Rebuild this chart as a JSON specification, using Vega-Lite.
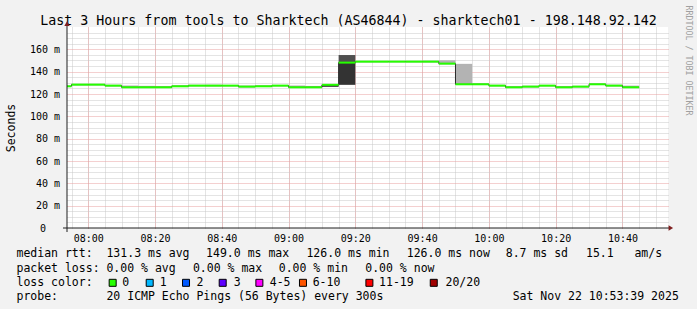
{
  "$schema": "https://vega.github.io/schema/vega-lite/v6.json",
  "background": "#f2f2f2",
  "padding": {"left": 5, "top": 5, "right": 5, "bottom": 4},
  "config": {"font": "DejaVu Sans Mono", "view": {"stroke": null}},
  "spacing": 4.2,
  "datasets": {
    "pings": [
      {"t0": "2025-11-22T07:50:00", "t1": "2025-11-22T07:55:00", "med": 126.9},
      {"t0": "2025-11-22T07:55:00", "t1": "2025-11-22T08:00:00", "med": 128.4},
      {"t0": "2025-11-22T08:00:00", "t1": "2025-11-22T08:05:00", "med": 128.4},
      {"t0": "2025-11-22T08:05:00", "t1": "2025-11-22T08:10:00", "med": 127.5},
      {"t0": "2025-11-22T08:10:00", "t1": "2025-11-22T08:15:00", "med": 126.0},
      {"t0": "2025-11-22T08:15:00", "t1": "2025-11-22T08:20:00", "med": 126.0},
      {"t0": "2025-11-22T08:20:00", "t1": "2025-11-22T08:25:00", "med": 126.0},
      {"t0": "2025-11-22T08:25:00", "t1": "2025-11-22T08:30:00", "med": 126.9},
      {"t0": "2025-11-22T08:30:00", "t1": "2025-11-22T08:35:00", "med": 127.5},
      {"t0": "2025-11-22T08:35:00", "t1": "2025-11-22T08:40:00", "med": 127.5},
      {"t0": "2025-11-22T08:40:00", "t1": "2025-11-22T08:45:00", "med": 127.5},
      {"t0": "2025-11-22T08:45:00", "t1": "2025-11-22T08:50:00", "med": 126.6},
      {"t0": "2025-11-22T08:50:00", "t1": "2025-11-22T08:55:00", "med": 126.9},
      {"t0": "2025-11-22T08:55:00", "t1": "2025-11-22T09:00:00", "med": 127.5},
      {"t0": "2025-11-22T09:00:00", "t1": "2025-11-22T09:05:00", "med": 126.0},
      {"t0": "2025-11-22T09:05:00", "t1": "2025-11-22T09:10:00", "med": 126.0},
      {"t0": "2025-11-22T09:10:00", "t1": "2025-11-22T09:15:00", "med": 128.2},
      {"t0": "2025-11-22T09:15:00", "t1": "2025-11-22T09:20:00", "med": 148.1},
      {"t0": "2025-11-22T09:20:00", "t1": "2025-11-22T09:25:00", "med": 149.0},
      {"t0": "2025-11-22T09:25:00", "t1": "2025-11-22T09:30:00", "med": 149.0},
      {"t0": "2025-11-22T09:30:00", "t1": "2025-11-22T09:35:00", "med": 149.0},
      {"t0": "2025-11-22T09:35:00", "t1": "2025-11-22T09:40:00", "med": 149.0},
      {"t0": "2025-11-22T09:40:00", "t1": "2025-11-22T09:45:00", "med": 149.0},
      {"t0": "2025-11-22T09:45:00", "t1": "2025-11-22T09:50:00", "med": 147.2},
      {"t0": "2025-11-22T09:50:00", "t1": "2025-11-22T09:55:00", "med": 128.7},
      {"t0": "2025-11-22T09:55:00", "t1": "2025-11-22T10:00:00", "med": 128.7},
      {"t0": "2025-11-22T10:00:00", "t1": "2025-11-22T10:05:00", "med": 127.5},
      {"t0": "2025-11-22T10:05:00", "t1": "2025-11-22T10:10:00", "med": 126.0},
      {"t0": "2025-11-22T10:10:00", "t1": "2025-11-22T10:15:00", "med": 126.6},
      {"t0": "2025-11-22T10:15:00", "t1": "2025-11-22T10:20:00", "med": 127.5},
      {"t0": "2025-11-22T10:20:00", "t1": "2025-11-22T10:25:00", "med": 126.0},
      {"t0": "2025-11-22T10:25:00", "t1": "2025-11-22T10:30:00", "med": 126.6},
      {"t0": "2025-11-22T10:30:00", "t1": "2025-11-22T10:35:00", "med": 128.7},
      {"t0": "2025-11-22T10:35:00", "t1": "2025-11-22T10:40:00", "med": 127.5},
      {"t0": "2025-11-22T10:40:00", "t1": "2025-11-22T10:45:00", "med": 126.0}
    ],
    "smoke": [
      {"t0": "2025-11-22T07:50:00", "t1": "2025-11-22T07:55:00", "lo": 126.4, "hi": 127.6, "shade": "light"},
      {"t0": "2025-11-22T07:55:00", "t1": "2025-11-22T08:00:00", "lo": 127.8, "hi": 129.0, "shade": "light"},
      {"t0": "2025-11-22T08:00:00", "t1": "2025-11-22T08:05:00", "lo": 127.9, "hi": 129.0, "shade": "light"},
      {"t0": "2025-11-22T08:05:00", "t1": "2025-11-22T08:10:00", "lo": 126.9, "hi": 128.2, "shade": "light"},
      {"t0": "2025-11-22T08:10:00", "t1": "2025-11-22T08:15:00", "lo": 125.6, "hi": 127.6, "shade": "light"},
      {"t0": "2025-11-22T08:15:00", "t1": "2025-11-22T08:20:00", "lo": 125.6, "hi": 127.3, "shade": "light"},
      {"t0": "2025-11-22T08:20:00", "t1": "2025-11-22T08:25:00", "lo": 125.6, "hi": 127.0, "shade": "light"},
      {"t0": "2025-11-22T08:25:00", "t1": "2025-11-22T08:30:00", "lo": 126.3, "hi": 127.6, "shade": "light"},
      {"t0": "2025-11-22T08:30:00", "t1": "2025-11-22T08:35:00", "lo": 127.0, "hi": 128.2, "shade": "light"},
      {"t0": "2025-11-22T08:35:00", "t1": "2025-11-22T08:40:00", "lo": 126.9, "hi": 128.3, "shade": "light"},
      {"t0": "2025-11-22T08:40:00", "t1": "2025-11-22T08:45:00", "lo": 127.0, "hi": 128.0, "shade": "light"},
      {"t0": "2025-11-22T08:45:00", "t1": "2025-11-22T08:50:00", "lo": 126.1, "hi": 127.6, "shade": "light"},
      {"t0": "2025-11-22T08:50:00", "t1": "2025-11-22T08:55:00", "lo": 126.3, "hi": 127.5, "shade": "light"},
      {"t0": "2025-11-22T08:55:00", "t1": "2025-11-22T09:00:00", "lo": 127.0, "hi": 128.1, "shade": "light"},
      {"t0": "2025-11-22T09:00:00", "t1": "2025-11-22T09:05:00", "lo": 125.6, "hi": 127.6, "shade": "light"},
      {"t0": "2025-11-22T09:05:00", "t1": "2025-11-22T09:10:00", "lo": 125.6, "hi": 127.2, "shade": "light"},
      {"t0": "2025-11-22T09:10:00", "t1": "2025-11-22T09:15:00", "lo": 126.4, "hi": 128.2, "shade": "black"},
      {"t0": "2025-11-22T09:15:00", "t1": "2025-11-22T09:20:00", "lo": 128.2, "hi": 148.1, "shade": "dark"},
      {"t0": "2025-11-22T09:15:00", "t1": "2025-11-22T09:20:00", "lo": 148.1, "hi": 154.9, "shade": "mid"},
      {"t0": "2025-11-22T09:20:00", "t1": "2025-11-22T09:25:00", "lo": 148.5, "hi": 149.6, "shade": "light"},
      {"t0": "2025-11-22T09:25:00", "t1": "2025-11-22T09:30:00", "lo": 148.5, "hi": 149.5, "shade": "light"},
      {"t0": "2025-11-22T09:30:00", "t1": "2025-11-22T09:35:00", "lo": 148.6, "hi": 149.5, "shade": "light"},
      {"t0": "2025-11-22T09:35:00", "t1": "2025-11-22T09:40:00", "lo": 148.5, "hi": 149.6, "shade": "light"},
      {"t0": "2025-11-22T09:40:00", "t1": "2025-11-22T09:45:00", "lo": 148.4, "hi": 149.8, "shade": "light"},
      {"t0": "2025-11-22T09:45:00", "t1": "2025-11-22T09:50:00", "lo": 146.8, "hi": 150.2, "shade": "light"},
      {"t0": "2025-11-22T09:50:00", "t1": "2025-11-22T09:55:00", "lo": 128.3, "hi": 147.0, "shade": "light"},
      {"t0": "2025-11-22T09:55:00", "t1": "2025-11-22T10:00:00", "lo": 128.2, "hi": 129.4, "shade": "light"},
      {"t0": "2025-11-22T10:00:00", "t1": "2025-11-22T10:05:00", "lo": 127.0, "hi": 128.2, "shade": "light"},
      {"t0": "2025-11-22T10:05:00", "t1": "2025-11-22T10:10:00", "lo": 125.6, "hi": 126.9, "shade": "light"},
      {"t0": "2025-11-22T10:10:00", "t1": "2025-11-22T10:15:00", "lo": 126.1, "hi": 127.4, "shade": "light"},
      {"t0": "2025-11-22T10:15:00", "t1": "2025-11-22T10:20:00", "lo": 127.0, "hi": 128.1, "shade": "light"},
      {"t0": "2025-11-22T10:20:00", "t1": "2025-11-22T10:25:00", "lo": 125.6, "hi": 127.0, "shade": "light"},
      {"t0": "2025-11-22T10:25:00", "t1": "2025-11-22T10:30:00", "lo": 126.1, "hi": 127.3, "shade": "light"},
      {"t0": "2025-11-22T10:30:00", "t1": "2025-11-22T10:35:00", "lo": 128.2, "hi": 129.3, "shade": "light"},
      {"t0": "2025-11-22T10:35:00", "t1": "2025-11-22T10:40:00", "lo": 127.0, "hi": 128.3, "shade": "light"},
      {"t0": "2025-11-22T10:40:00", "t1": "2025-11-22T10:45:00", "lo": 125.6, "hi": 127.5, "shade": "light"}
    ],
    "legendText": [
      {"line": 0, "col": 0, "txt": "median rtt:"},
      {"line": 0, "col": 13, "txt": "131.3 ms avg"},
      {"line": 0, "col": 27.4, "txt": "149.0 ms max"},
      {"line": 0, "col": 41.9, "txt": "126.0 ms min"},
      {"line": 0, "col": 56.4, "txt": "126.0 ms now"},
      {"line": 0, "col": 70.7, "txt": "8.7 ms sd"},
      {"line": 0, "col": 82.3, "txt": "15.1"},
      {"line": 0, "col": 89.3, "txt": "am/s"},
      {"line": 1, "col": 0, "txt": "packet loss:"},
      {"line": 1, "col": 13, "txt": "0.00 % avg"},
      {"line": 1, "col": 25.5, "txt": "0.00 % max"},
      {"line": 1, "col": 37.9, "txt": "0.00 % min"},
      {"line": 1, "col": 50.4, "txt": "0.00 % now"},
      {"line": 2, "col": 0, "txt": "loss color:"},
      {"line": 2, "col": 15.3, "txt": "0"},
      {"line": 2, "col": 20.7, "txt": "1"},
      {"line": 2, "col": 26.0, "txt": "2"},
      {"line": 2, "col": 31.4, "txt": "3"},
      {"line": 2, "col": 36.6, "txt": "4-5"},
      {"line": 2, "col": 42.8, "txt": "6-10"},
      {"line": 2, "col": 52.4, "txt": "11-19"},
      {"line": 2, "col": 62.0, "txt": "20/20"},
      {"line": 3, "col": 0, "txt": "probe:"},
      {"line": 3, "col": 13, "txt": "20 ICMP Echo Pings (56 Bytes) every 300s"},
      {"line": 3, "col": 71.7, "txt": "Sat Nov 22 10:53:39 2025"}
    ],
    "lossColors": [
      {"line": 2, "col": 13.9, "c": "#26ff00"},
      {"line": 2, "col": 19.25, "c": "#00b8ff"},
      {"line": 2, "col": 24.5, "c": "#0059ff"},
      {"line": 2, "col": 29.8, "c": "#5e00ff"},
      {"line": 2, "col": 35.1, "c": "#ff00ff"},
      {"line": 2, "col": 41.4, "c": "#ff5500"},
      {"line": 2, "col": 51.0, "c": "#ff0000"},
      {"line": 2, "col": 60.3, "c": "#a00000"}
    ]
  },
  "vconcat": [
    {
      "width": 601,
      "height": 201,
      "view": {"fill": "#ffffff", "stroke": null},
      "layer": [
        {
          "data": {"name": "smoke"},
          "mark": {"type": "rect", "clip": true},
          "encoding": {
            "x": {
              "field": "t0", "type": "temporal",
              "scale": {"domain": [
                {"year": 2025, "month": 11, "date": 22, "hours": 7, "minutes": 53, "seconds": 39},
                {"year": 2025, "month": 11, "date": 22, "hours": 10, "minutes": 53, "seconds": 39}
              ]},
              "axis": {"orient": "bottom", "tickCount": 36, "grid": true, "gridColor": "#c8c8c8", "gridDash": [1, 1], "labels": false, "ticks": false, "domain": false, "title": null}
            },
            "x2": {"field": "t1"},
            "y": {
              "field": "lo", "type": "quantitative",
              "scale": {"domain": [0, 180], "nice": false},
              "axis": {"orient": "left", "values": [5, 10, 15, 25, 30, 35, 45, 50, 55, 65, 70, 75, 85, 90, 95, 105, 110, 115, 125, 130, 135, 145, 150, 155, 165, 170, 175], "grid": true, "gridColor": "#c8c8c8", "gridDash": [1, 1], "labels": false, "ticks": false, "domain": false, "title": null}
            },
            "y2": {"field": "hi"},
            "color": {
              "field": "shade", "type": "nominal",
              "scale": {"domain": ["light", "black", "dark", "mid"], "range": ["#b3b3b3", "#1c1c1c", "#333333", "#4f4f4f"]},
              "legend": null
            }
          }
        },
        {
          "data": {"name": "pings"},
          "mark": {"type": "line", "interpolate": "step-before", "color": "#2a2a2a", "strokeWidth": 1, "clip": true},
          "encoding": {
            "x": {
              "field": "t1", "type": "temporal",
              "axis": {"orient": "top", "title": "Last 3 Hours from tools to Sharktech (AS46844) - sharktech01 - 198.148.92.142", "labels": false, "ticks": false, "domain": false, "grid": false, "titleFontSize": 13.3, "titleFontWeight": "normal", "titleColor": "#000000", "titlePadding": 3, "titleBaseline": "alphabetic", "titleX": 281, "titleAlign": "center"}
            },
            "y": {
              "field": "med", "type": "quantitative",
              "axis": {"orient": "right", "title": "RRDTOOL / TOBI OETIKER", "labels": false, "ticks": false, "domain": false, "grid": false, "titleAngle": 90, "titleFontSize": 8.3, "titleFontWeight": "normal", "titleColor": "#a0a0a0", "titleX": 19.5, "titleY": -22, "titleAlign": "left", "titleBaseline": "middle"}
            }
          }
        },
        {
          "data": {"name": "pings"},
          "mark": {"type": "rule", "color": "#26ff00", "strokeWidth": 2, "clip": true},
          "encoding": {
            "x": {
              "field": "t0", "type": "temporal",
              "axis": {"orient": "bottom", "values": [
                {"year": 2025, "month": 11, "date": 22, "hours": 8, "minutes": 0},
                {"year": 2025, "month": 11, "date": 22, "hours": 8, "minutes": 20},
                {"year": 2025, "month": 11, "date": 22, "hours": 8, "minutes": 40},
                {"year": 2025, "month": 11, "date": 22, "hours": 9, "minutes": 0},
                {"year": 2025, "month": 11, "date": 22, "hours": 9, "minutes": 20},
                {"year": 2025, "month": 11, "date": 22, "hours": 9, "minutes": 40},
                {"year": 2025, "month": 11, "date": 22, "hours": 10, "minutes": 0},
                {"year": 2025, "month": 11, "date": 22, "hours": 10, "minutes": 20},
                {"year": 2025, "month": 11, "date": 22, "hours": 10, "minutes": 40}
              ], "format": "%H:%M", "grid": true, "gridColor": "#e8a0a0", "gridDash": [1, 1], "ticks": false, "domain": false, "labelFontSize": 10, "labelColor": "#000000", "labelPadding": 5, "labelFlush": false, "labelOverlap": false, "title": null}
            },
            "x2": {"field": "t1"},
            "y": {
              "field": "med", "type": "quantitative",
              "axis": {"orient": "left", "values": [20, 40, 60, 80, 100, 120, 140, 160], "labelExpr": "datum.value + ' m'", "grid": true, "gridColor": "#e8a0a0", "gridDash": [1, 1], "ticks": false, "domain": false, "labelFontSize": 10, "labelColor": "#000000", "labelPadding": 7.5, "title": "Seconds", "titleFontSize": 11.5, "titleFontWeight": "normal", "titleColor": "#000000", "titlePadding": 13}
            }
          }
        },
        {
          "data": {"values": [{}]},
          "mark": {"type": "rule", "color": "#1f1f1f", "strokeWidth": 1},
          "encoding": {
            "x": {"datum": {"year": 2025, "month": 11, "date": 22, "hours": 7, "minutes": 52, "seconds": 27}, "type": "temporal", "axis": null},
            "x2": {"datum": {"year": 2025, "month": 11, "date": 22, "hours": 10, "minutes": 54, "seconds": 30}},
            "y": {"datum": 0, "type": "quantitative", "axis": {"orient": "left", "values": [0], "grid": false, "ticks": false, "domain": false, "labelFontSize": 10, "labelColor": "#000000", "labelPadding": 21.5, "title": null}}
          }
        },
        {
          "data": {"values": [{}]},
          "mark": {"type": "rule", "color": "#1f1f1f", "strokeWidth": 1},
          "encoding": {
            "x": {"datum": {"year": 2025, "month": 11, "date": 22, "hours": 7, "minutes": 53, "seconds": 39}, "type": "temporal", "axis": null},
            "y": {"datum": -3.6, "type": "quantitative", "axis": null},
            "y2": {"datum": 182}
          }
        },
        {
          "data": {"values": [{}]},
          "mark": {"type": "point", "shape": "triangle-up", "filled": true, "size": 28, "color": "#7f1f1f", "opacity": 1},
          "encoding": {
            "x": {"datum": {"year": 2025, "month": 11, "date": 22, "hours": 7, "minutes": 53, "seconds": 39}, "type": "temporal", "axis": null},
            "y": {"datum": 183, "type": "quantitative", "axis": null}
          }
        },
        {
          "data": {"values": [{}]},
          "mark": {"type": "point", "shape": "triangle-right", "filled": true, "size": 28, "color": "#7f1f1f", "opacity": 1},
          "encoding": {
            "x": {"datum": {"year": 2025, "month": 11, "date": 22, "hours": 10, "minutes": 54, "seconds": 30}, "type": "temporal", "axis": null},
            "y": {"datum": 0, "type": "quantitative", "axis": null}
          }
        }
      ],
      "resolve": {"axis": {"x": "independent", "y": "independent"}}
    },
    {
      "width": 601,
      "height": 57,
      "layer": [
        {
          "data": {"name": "legendText"},
          "mark": {"type": "text", "align": "left", "baseline": "middle", "fontSize": 11.5, "color": "#000000"},
          "encoding": {
            "x": {"field": "col", "type": "quantitative", "scale": {"domain": [7.3, 94.15], "nice": false, "zero": false}, "axis": null},
            "y": {"field": "line", "type": "quantitative", "scale": {"domain": [-0.5, 3.5], "reverse": true, "nice": false, "zero": false}, "axis": null},
            "text": {"field": "txt"}
          }
        },
        {
          "data": {"name": "lossColors"},
          "mark": {"type": "point", "shape": "square", "filled": true, "size": 49, "stroke": "#000000", "strokeWidth": 1, "opacity": 1},
          "encoding": {
            "x": {"field": "col", "type": "quantitative", "axis": null},
            "y": {"field": "line", "type": "quantitative", "axis": null},
            "fill": {"field": "c", "type": "nominal", "scale": null, "legend": null}
          }
        }
      ]
    }
  ]
}
